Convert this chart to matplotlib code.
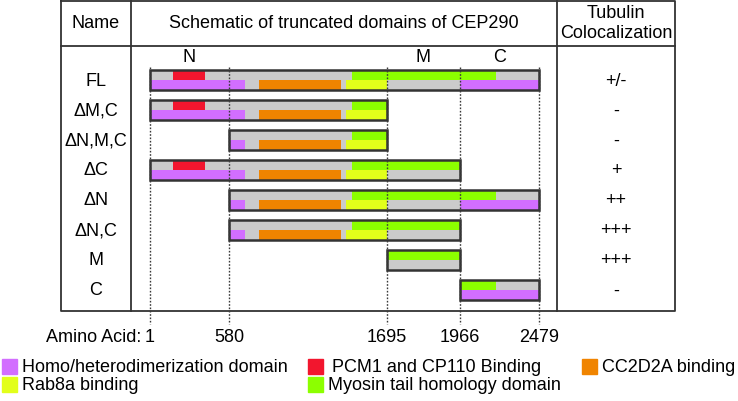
import numpy as np
import matplotlib
matplotlib.use("Agg")
import matplotlib.pyplot as plt
from matplotlib.patches import Rectangle

plt.rcParams['font.family'] = ['Liberation Sans', 'DejaVu Sans']

# Constructs (name, first aa, last aa, tubulin colocalization)
names = ['FL', 'ΔM,C', 'ΔN,M,C', 'ΔC', 'ΔN', 'ΔN,C', 'M', 'C']
starts = [1, 1, 580, 1, 580, 580, 1695, 1966]
ends = [2479, 1695, 1695, 1966, 2479, 1966, 1966, 2479]
tubulin = ['+/-', '-', '-', '+', '++', '+++', '+++', '-']

# Domain boundaries shown on the axis
aa_ticks = [1, 580, 1695, 1966, 2479]
regions = [('N', 1, 580), ('M', 1695, 1966), ('C', 1966, 2479)]

# Domains: label, color, band (0 = top half, 1 = bottom half), segments in aa
dom_labels = ['Homo/heterodimerization domain', 'PCM1 and CP110 Binding',
              'CC2D2A binding', 'Rab8a binding', 'Myosin tail homology domain']
dom_colors = ['#d26eff', '#f2162e', '#f08400', '#e2ff1a', '#8cff00']
dom_band = [1, 0, 1, 1, 0]
dom_segments = [[(1, 693), (1966, 2479)], [(167, 404)], [(794, 1370)],
                [(1407, 1695)], [(1447, 2200)]]

GRAY = '#cbcbcb'
EDGE = '#333333'
FS = 13

# schematic is not drawn to scale: each interval between ticks gets its own width
tick_pos = [0, 79, 236.7, 310, 389]


def fwd(a):
    return np.interp(a, aa_ticks, tick_pos)


def inv(p):
    return np.interp(p, tick_pos, aa_ticks)


W, H = 738, 402
fig = plt.figure(figsize=(W / 100, H / 100), dpi=100)

# page axes in pixel coordinates
pg = fig.add_axes([0, 0, 1, 1])
pg.set_xlim(0, W)
pg.set_ylim(H, 0)
pg.axis('off')

# schematic axes: x in amino acids, y in pixels
ax = fig.add_axes([150 / W, 0, 389 / W, 1])
ax.set_xscale('function', functions=(fwd, inv))
ax.set_xlim(1, 2479)
ax.set_ylim(H, 0)
ax.axis('off')

# table grid
lw = 1.3
pg.plot([61, 675, 675, 61, 61], [2, 2, 312, 312, 2], color=EDGE, lw=lw)
pg.plot([61, 675], [47, 47], color=EDGE, lw=lw)
pg.plot([131, 131], [2, 312], color=EDGE, lw=lw)
pg.plot([557, 557], [2, 312], color=EDGE, lw=lw)

pg.text(96, 23, 'Name', ha='center', va='center', fontsize=FS)
pg.text(344, 23, 'Schematic of truncated domains of CEP290', ha='center', va='center', fontsize=FS)
pg.text(616, 13, 'Tubulin', ha='center', va='center', fontsize=FS)
pg.text(616, 34, 'Colocalization', ha='center', va='center', fontsize=FS)

# dotted guides at domain boundaries (drawn over the bars)
ax.vlines(aa_ticks, 68, 325, colors='#3a3a3a', linestyles=(0, (1.2, 1.2)), lw=1,
          clip_on=False, zorder=5)

for lab, a0, a1 in regions:
    ax.text(inv((fwd(a0) + fwd(a1)) / 2), 58, lab, ha='center', va='center', fontsize=FS)

row_top0, row_step, row_h = 71, 30, 20
for i, (nm, s, e, tb) in enumerate(zip(names, starts, ends, tubulin)):
    top = row_top0 + i * row_step
    yc = top + row_h / 2
    pg.text(96, yc, nm, ha='center', va='center', fontsize=FS)
    pg.text(616, yc, tb, ha='center', va='center', fontsize=FS)
    ax.barh(yc, e - s, left=s, height=row_h, color=GRAY, zorder=2, clip_on=False)
    for col, band, segs in zip(dom_colors, dom_band, dom_segments):
        for a0, a1 in segs:
            lo, hi = max(a0, s), min(a1, e)
            if hi > lo:
                ax.barh(top + row_h / 4 + band * row_h / 2, hi - lo, left=lo,
                        height=row_h / 2, color=col, zorder=3, clip_on=False)
    ax.barh(yc, e - s, left=s, height=row_h, fill=False, edgecolor=EDGE, lw=1.8,
            zorder=4, clip_on=False)

# amino acid axis labels
pg.text(141, 338, 'Amino Acid:', ha='right', va='center', fontsize=FS)
for a in aa_ticks:
    ax.text(a, 338, str(a), ha='center', va='center', fontsize=FS, clip_on=False)

# legend
leg_xy = [(2, 360), (308, 360), (582, 360), (2, 378), (308, 378)]
leg_tx = [22, 332, 602, 22, 328]
for (lx, ly), tx, lab, col in zip(leg_xy, leg_tx, dom_labels, dom_colors):
    pg.add_patch(Rectangle((lx, ly), 15, 15, color=col))
    pg.text(tx, ly + 7.5, lab, ha='left', va='center', fontsize=FS)

fig.savefig('out.png', dpi=100)
